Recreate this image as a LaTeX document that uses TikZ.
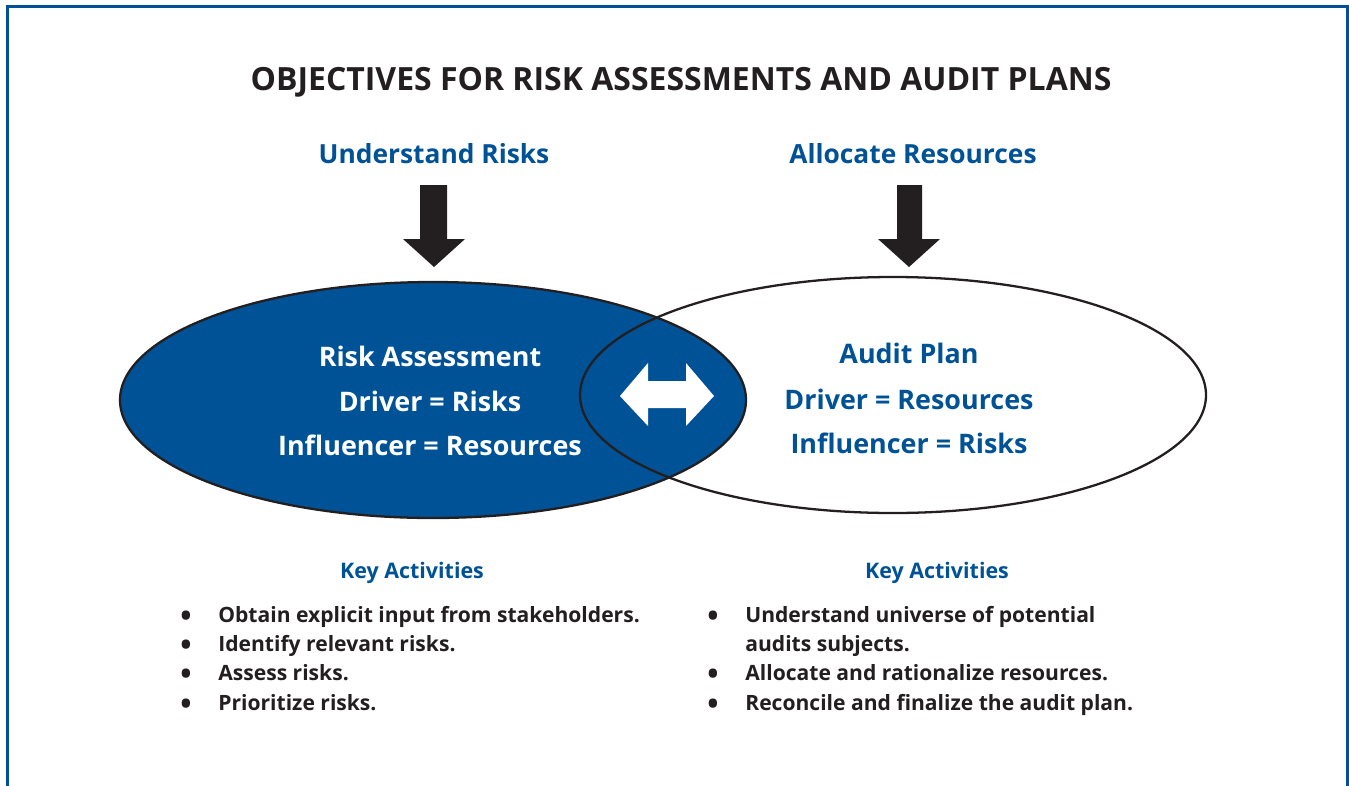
\documentclass[tikz,border=0pt]{standalone}
\usepackage{fontspec}
\setmainfont{Open Sans}
\usetikzlibrary{positioning}
\definecolor{iiablue}{RGB}{0,82,150}
\definecolor{inkblack}{RGB}{35,31,32}
\begin{document}
\begin{tikzpicture}[x=0.02cm, y=-0.02cm,
    heading/.style={font=\bfseries\fontsize{15}{18}\selectfont, text=iiablue},
    inside/.style={font=\bfseries\fontsize{15.3}{18}\selectfont},
    keyhead/.style={font=\bfseries\fontsize{12.2}{14}\selectfont, text=iiablue},
    item/.style={font=\bfseries\fontsize{12}{14}\selectfont, text=inkblack, anchor=base west, inner sep=0pt},
    dot/.style={font=\bfseries\fontsize{17}{14}\selectfont, text=inkblack, anchor=base, inner sep=0pt},
    downarrow/.style={fill=inkblack}]
    \useasboundingbox (0,0) rectangle (1349,785);

    % 边框
    \draw[iiablue, line width=1.7pt] (7.3,800) -- (7.3,6.5) -- (1347.3,6.5) -- (1347.3,800);

    % 标题
    \node[font=\bfseries\fontsize{18.2}{20}\selectfont, text=inkblack, anchor=base] (title) at (681,90)
        {OBJECTIVES FOR RISK ASSESSMENTS AND AUDIT PLANS};
    \node[heading, anchor=base] (understand) at (434,163) {Understand Risks};
    \node[heading, anchor=base] (allocate) at (913,163) {Allocate Resources};

    % 向下箭头
    \fill[downarrow] (420,185) -- (447,185) -- (447,239) -- (465,239) -- (434,267)
        -- (403,239) -- (420,239) -- cycle;
    \fill[downarrow] (897,185) -- (922,185) -- (922,239) -- (940,239) -- (909,267)
        -- (878,239) -- (897,239) -- cycle;

    % 两个椭圆
    \fill[iiablue] (433,400) ellipse [x radius=313, y radius=118];
    \draw[inkblack, line width=1.3pt] (433,400) ellipse [x radius=313, y radius=118];
    \draw[inkblack, line width=1.3pt] (893,395) ellipse [x radius=313, y radius=118];

    % 双向箭头
    \fill[white] (620,396) -- (648,363) -- (648,381) -- (686,381) -- (686,363) -- (714,396)
        -- (686,426) -- (686,408) -- (648,408) -- (648,426) -- cycle;

    % 椭圆内文字
    \node[inside, text=white, anchor=base] (riskass) at (430,366) {Risk Assessment};
    \node[inside, text=white, anchor=base] (driverl) at (430,411) {Driver = Risks};
    \node[inside, text=white, anchor=base] (infll) at (430,455) {Influencer = Resources};
    \node[inside, text=iiablue, anchor=base] (auditplan) at (909,363) {Audit Plan};
    \node[inside, text=iiablue, anchor=base] (driverr) at (909,409) {Driver = Resources};
    \node[inside, text=iiablue, anchor=base] (inflr) at (909,453) {Influencer = Risks};

    % 关键活动
    \node[keyhead, anchor=base] (keyl) at (412,578) {Key Activities};
    \node[keyhead, anchor=base] (keyr) at (937,578) {Key Activities};

    % 左侧列表
    \foreach \t [count=\i] in {Obtain explicit input from stakeholders., Identify relevant risks.,
        Assess risks., Prioritize risks.} {
        \node[dot] (bl\i) at (186,{597+29.3*\i}) {\textbullet};
        \node[item] (il\i) at (218,{593+29.3*\i}) {\t};
    }

    % 右侧列表
    \node[dot] (br1) at (713,626.3) {\textbullet};
    \node[item] (ir1) at (745,622.3) {Understand universe of potential};
    \node[item] (ir1b) at (745,651.6) {audits subjects.};
    \node[dot] (br2) at (713,684.9) {\textbullet};
    \node[item] (ir2) at (745,680.9) {Allocate and rationalize resources.};
    \node[dot] (br3) at (713,714.2) {\textbullet};
    \node[item] (ir3) at (745,710.2) {Reconcile and finalize the audit plan.};
\end{tikzpicture}
\end{document}
